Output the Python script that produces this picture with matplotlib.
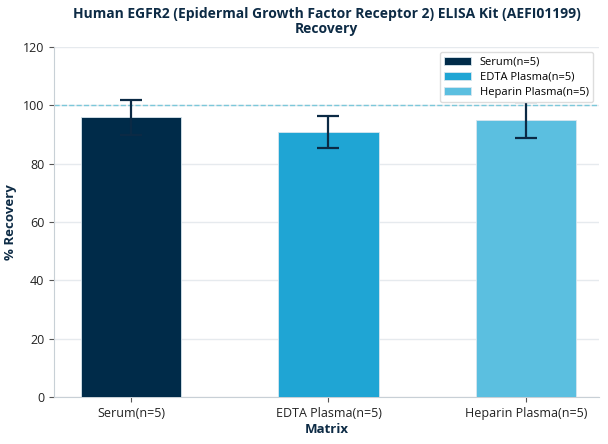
import matplotlib
matplotlib.use("Agg")
import matplotlib.pyplot as plt
import numpy as np

plt.rcParams['font.family'] = ['Open Sans', 'DejaVu Sans']

categories = ['Serum(n=5)', 'EDTA Plasma(n=5)', 'Heparin Plasma(n=5)']
recovery = [95.8, 90.7, 94.9]
errors = [6.1, 5.5, 6.0]
colors = ['#002b49', '#1fa5d4', '#5bbfe0']

fig, ax = plt.subplots(figsize=(6.08, 4.44), dpi=100)
x = np.arange(len(categories))
for i in range(len(categories)):
    ax.bar(x[i], recovery[i], width=0.51, color=colors[i], edgecolor='#d8e6ee',
           linewidth=0.6, label=categories[i], zorder=3)
ax.errorbar(x, recovery, yerr=errors, fmt='none', ecolor='#0b2a45',
            elinewidth=1.6, capsize=8, capthick=1.6, zorder=4)
ax.axhline(100, color='#7cc8da', linestyle='--', linewidth=1.0, zorder=2)

ax.set_ylim(0, 120)
ax.set_yticks(range(0, 121, 20))
ax.set_xlim(-0.39, 2.37)
ax.set_xticks(x)
ax.set_xticklabels(categories, fontsize=9, color='#222222')
ax.tick_params(axis='y', labelsize=9, colors='#222222')
ax.tick_params(axis='both', color='#555555', length=3.5)
ax.grid(axis='y', color='#e6eaee', linewidth=1, zorder=0)
ax.spines['top'].set_visible(False)
ax.spines['right'].set_visible(False)
ax.spines['left'].set_color('#c8d0d6')
ax.spines['bottom'].set_color('#c8d0d6')

ax.set_xlabel('Matrix', fontsize=9.5, fontweight='bold', color='#0d2b45', labelpad=2)
ax.set_ylabel('% Recovery', fontsize=9.5, fontweight='bold', color='#0d2b45', labelpad=4)
ax.set_title('Human EGFR2 (Epidermal Growth Factor Receptor 2) ELISA Kit (AEFI01199)\nRecovery',
             fontsize=10, fontweight='bold', color='#0d2b45', linespacing=1.1, pad=10)
leg = ax.legend(loc='upper right', fontsize=8, frameon=True, framealpha=1,
                edgecolor='#dddddd', handlelength=2.4, handleheight=0.8,
                borderpad=0.4, labelspacing=0.35, borderaxespad=0.5)
leg.set_zorder(10)

plt.subplots_adjust(left=0.089, right=0.985, top=0.895, bottom=0.105)
plt.savefig('out.png', dpi=100)
